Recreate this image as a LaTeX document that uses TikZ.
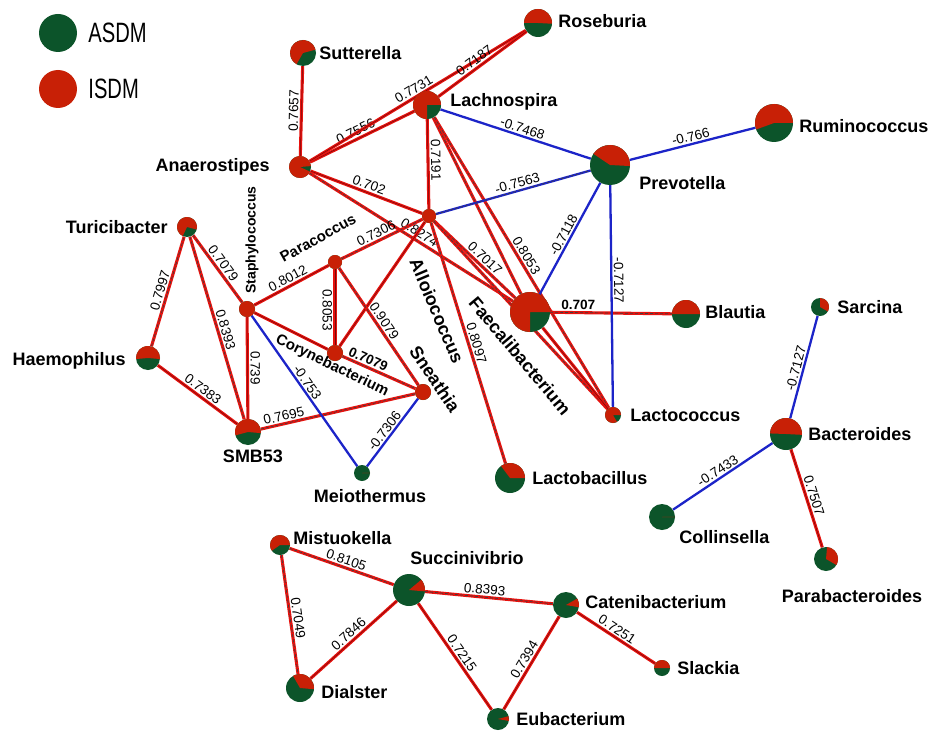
\documentclass[tikz,border=0pt]{standalone}
\usepackage{fontspec}
\setmainfont{Liberation Sans}
\newfontfamily\narrowfont[FakeStretch=0.72]{Liberation Sans}
\usepackage{tikz}
\usetikzlibrary{backgrounds,positioning}
\definecolor{asdmgreen}{RGB}{12,84,42}
\definecolor{isdmred}{RGB}{200,32,6}
\definecolor{linkred}{RGB}{230,18,14}
\definecolor{linkdark}{RGB}{120,10,10}
\definecolor{linkblue}{RGB}{28,36,200}
\tikzstyle{pie}=[
	circle,
	inner sep=0]
\tikzstyle{taxon}=[
	inner sep=0,
	font=\bfseries\fontsize{18}{20}\selectfont]
\tikzstyle{smalltaxon}=[
	taxon,
	font=\bfseries\fontsize{15}{17}\selectfont]
\tikzstyle{key}=[
	inner sep=0,
	font=\narrowfont\fontsize{28}{30}\selectfont]
\tikzstyle{weight}=[
	sloped,
	above,
	midway,
	inner sep=1.5pt,
	font=\fontsize{13.5}{15}\selectfont]
\tikzstyle{poslink}=[
	draw=linkred,
	line width=3.1pt,
	postaction={draw=linkdark,line width=0.5pt}]
\tikzstyle{poslinkd}=[
	draw=linkred,
	line width=3.1pt,
	postaction={draw=black!75,line width=0.7pt,dash pattern=on 3pt off 2pt}]
\tikzstyle{neglink}=[
	draw=linkblue,
	line width=2.3pt]
\tikzstyle{neglinkd}=[
	neglink,
	postaction={draw=black!75,line width=0.6pt,dash pattern=on 3pt off 2pt}]
\newcommand{\pienode}[5]{%
	\node[pie,minimum size=#3*2pt] (#1) at (#2) {};
	\fill[asdmgreen] (#1.center) circle (#3pt);
	\fill[isdmred] (#1.center) -- ++(#4:#3pt) arc[start angle=#4,end angle=#5,radius=#3pt] -- cycle;
}

\begin{document}
\begin{tikzpicture}[x=1pt,y=-1pt]
	\useasboundingbox (0,0) rectangle (933,730);
	\begin{scope}
		\node[pie,fill=asdmgreen,minimum size=38pt] (asdm key) at (58,33) {};
		\node[pie,fill=isdmred,minimum size=38pt] (isdm key) at (58,89) {};
		\node[key] (asdm text) [right=11pt of asdm key] {ASDM};
		\node[key] (isdm text) [right=11pt of isdm key] {ISDM};
	\end{scope}
	\begin{scope}
		\pienode{sutterella}{303,53}{13}{15}{240}
		\pienode{roseburia}{538,23}{14}{-3}{180}
		\pienode{lachnospira}{427,105}{14}{0}{270}
		\pienode{ruminococcus}{774,123}{19}{0}{200}
		\pienode{prevotella}{610,165}{20}{-3}{146}
		\pienode{anaerostipes}{300,167}{11}{5}{335}
		\pienode{alloiococcus}{429,216}{7}{0}{360}
		\pienode{faecalibacterium}{530,312}{20}{0}{270}
		\pienode{blautia}{686,314}{14}{0}{180}
		\pienode{lactococcus}{613,415}{8}{0}{300}
		\pienode{lactobacillus}{510,478}{15}{0}{127}
		\pienode{turicibacter}{187,227}{10}{-15}{245}
		\pienode{haemophilus}{148,358}{12}{-5}{185}
		\pienode{staphylococcus}{247,309}{8}{0}{360}
		\pienode{paracoccus}{335,262}{7}{0}{360}
		\pienode{corynebacterium}{335,353}{8}{0}{360}
		\pienode{sneathia}{423,392}{8}{0}{360}
		\pienode{smb53}{248,432}{13}{-5}{195}
		\pienode{meiothermus}{362,473}{8}{0}{1}
		\pienode{sarcina}{820,307}{9}{-30}{90}
		\pienode{bacteroides}{786,434}{16}{-3}{178}
		\pienode{collinsella}{662,517}{13}{0}{1}
		\pienode{parabacteroides}{826,559}{12}{-30}{85}
		\pienode{mistuokella}{280,545}{10}{0}{215}
		\pienode{succinivibrio}{409,590}{16}{-5}{40}
		\pienode{catenibacterium}{566,605}{13}{-10}{30}
		\pienode{slackia}{662,668}{8}{0}{180}
		\pienode{dialster}{300,688}{14}{-5}{120}
		\pienode{eubacterium}{498,719}{11}{-10}{15}
	\end{scope}
	\begin{scope}[on background layer]
		\draw[poslink] (anaerostipes) -- node[weight] {0.7657} (sutterella);
		\draw[poslink] (anaerostipes) -- node[weight,pos=0.47] {0.7556} (lachnospira);
		\draw[poslink] (anaerostipes) -- node[weight] {0.7731} (roseburia);
		\draw[poslink] (lachnospira) -- node[weight,pos=0.46] {0.7187} (roseburia);
		\draw[poslink] (lachnospira) -- node[weight,pos=0.46] {0.7191} (alloiococcus);
		\draw[poslink] (anaerostipes) -- node[weight] {0.702} (alloiococcus);
		\draw[poslinkd] (anaerostipes) -- node[weight,pos=0.52] {0.8274} (faecalibacterium);
		\draw[poslinkd] (lachnospira) -- (faecalibacterium);
		\draw[poslinkd] (lachnospira) -- node[weight,pos=0.49] {0.8053} (lactococcus);
		\draw[poslinkd] (alloiococcus) -- node[weight,pos=0.56] {0.7017} (faecalibacterium);
		\draw[poslinkd] (alloiococcus) -- (lactococcus);
		\draw[poslink] (faecalibacterium) -- (lactococcus);
		\draw[poslinkd] (faecalibacterium) -- node[weight,pos=0.23,font=\bfseries\fontsize{13.5}{15}\selectfont] {0.707} (blautia);
		\draw[poslinkd] (alloiococcus) -- node[weight,pos=0.51] {0.8097} (lactobacillus);
		\draw[poslinkd] (paracoccus) -- node[weight,pos=0.47] {0.7306} (alloiococcus);
		\draw[poslink] (corynebacterium) -- (alloiococcus);
		\draw[poslinkd] (turicibacter) -- node[weight,pos=0.49] {0.7079} (staphylococcus);
		\draw[poslinkd] (haemophilus) -- node[weight,pos=0.49] {0.7997} (turicibacter);
		\draw[poslinkd] (turicibacter) -- node[weight,pos=0.52] {0.8393} (smb53);
		\draw[poslink] (haemophilus) -- node[weight,pos=0.51] {0.7383} (smb53);
		\draw[poslink] (staphylococcus) -- node[weight] {0.739} (smb53);
		\draw[poslink] (staphylococcus) -- node[weight] {0.8012} (paracoccus);
		\draw[poslink] (paracoccus) -- node[weight,below,pos=0.54] {0.8053} (corynebacterium);
		\draw[poslinkd] (paracoccus) -- node[weight,pos=0.49] {0.9079} (sneathia);
		\draw[poslink] (staphylococcus) -- (corynebacterium);
		\draw[poslinkd] (corynebacterium) -- node[weight,pos=0.31,font=\bfseries\fontsize{13.5}{15}\selectfont] {0.7079} (sneathia);
		\draw[poslinkd] (smb53) -- node[weight,pos=0.16] {0.7695} (sneathia);
		\draw[poslink] (bacteroides) -- node[weight] {0.7507} (parabacteroides);
		\draw[poslinkd] (mistuokella) -- node[weight,pos=0.52] {0.8105} (succinivibrio);
		\draw[poslinkd] (mistuokella) -- node[weight,pos=0.54] {0.7049} (dialster);
		\draw[poslink] (dialster) -- node[weight] {0.7846} (succinivibrio);
		\draw[poslinkd] (succinivibrio) -- node[weight,pos=0.46] {0.8393} (catenibacterium);
		\draw[poslink] (succinivibrio) -- node[weight,pos=0.51] {0.7215} (eubacterium);
		\draw[poslink] (eubacterium) -- node[weight,pos=0.49] {0.7394} (catenibacterium);
		\draw[poslink] (catenibacterium) -- node[weight,pos=0.46] {0.7251} (slackia);
		\draw[neglink] (lachnospira) -- node[weight,pos=0.53] {-0.7468} (prevotella);
		\draw[neglinkd] (alloiococcus) -- node[weight,pos=0.54] {-0.7563} (prevotella);
		\draw[neglink] (prevotella) -- node[weight] {-0.766} (ruminococcus);
		\draw[neglink] (faecalibacterium) -- node[weight] {-0.7118} (prevotella);
		\draw[neglink] (prevotella) -- node[weight,pos=0.43] {-0.7127} (lactococcus);
		\draw[neglink] (staphylococcus) -- node[weight,pos=0.47] {-0.753} (meiothermus);
		\draw[neglink] (meiothermus) -- node[weight,pos=0.46] {-0.7306} (sneathia);
		\draw[neglink] (bacteroides) -- node[weight,pos=0.47] {-0.7127} (sarcina);
		\draw[neglink] (collinsella) -- node[weight,pos=0.49] {-0.7433} (bacteroides);
	\end{scope}
	\begin{scope}
		\node[taxon] (sutterella text) [right=3pt of sutterella] {Sutterella};
		\node[taxon,yshift=2pt] (roseburia text) [right=6pt of roseburia] {Roseburia};
		\node[taxon,yshift=3pt] (lachnospira text) [right=9pt of lachnospira] {Lachnospira};
		\node[taxon,yshift=-3pt] (ruminococcus text) [right=6pt of ruminococcus] {Ruminococcus};
		\node[taxon,yshift=-18pt] (prevotella text) [right=9pt of prevotella] {Prevotella};
		\node[taxon] (anaerostipes text) [left=19pt of anaerostipes] {Anaerostipes};
		\node[taxon] (turicibacter text) [left=9pt of turicibacter] {Turicibacter};
		\node[taxon,yshift=-3pt] (haemophilus text) [left=10pt of haemophilus] {Haemophilus};
		\node[taxon,yshift=2pt] (blautia text) [right=5pt of blautia] {Blautia};
		\node[taxon] (lactococcus text) [right=9pt of lactococcus] {Lactococcus};
		\node[taxon] (lactobacillus text) [right=7pt of lactobacillus] {Lactobacillus};
		\node[taxon,xshift=5pt] (smb53 text) [below=5pt of smb53] {SMB53};
		\node[taxon,xshift=8pt] (meiothermus text) [below=8pt of meiothermus] {Meiothermus};
		\node[taxon] (sarcina text) [right=8pt of sarcina] {Sarcina};
		\node[taxon] (bacteroides text) [right=6pt of bacteroides] {Bacteroides};
		\node[taxon,yshift=-20pt] (collinsella text) [right=4pt of collinsella] {Collinsella};
		\node[taxon,xshift=26pt] (parabacteroides text) [below=18pt of parabacteroides] {Parabacteroides};
		\node[taxon,yshift=7pt] (mistuokella text) [right=3pt of mistuokella] {Mistuokella};
		\node[taxon,xshift=58pt] (succinivibrio text) [above=9pt of succinivibrio] {Succinivibrio};
		\node[taxon,yshift=3pt] (catenibacterium text) [right=6pt of catenibacterium] {Catenibacterium};
		\node[taxon] (slackia text) [right=7pt of slackia] {Slackia};
		\node[taxon,yshift=-4pt] (dialster text) [right=7pt of dialster] {Dialster};
		\node[taxon] (eubacterium text) [right=7pt of eubacterium] {Eubacterium};
		\node[smalltaxon,font=\bfseries\fontsize{14}{16}\selectfont,rotate=90] (staphylococcus text) at (252,240) {Staphylococcus};
		\node[smalltaxon,rotate=29] (paracoccus text) at (318,238) {Paracoccus};
		\node[smalltaxon,rotate=-26] (corynebacterium text) at (332,366) {Corynebacterium};
		\node[taxon,rotate=-56] (sneathia text) at (435,379) {Sneathia};
		\node[taxon,rotate=-67] (alloiococcus text) at (437,311) {Alloiococcus};
		\node[taxon,rotate=-50] (faecalibacterium text) at (520,356) {Faecalibacterium};
	\end{scope}
\end{tikzpicture}
\end{document}
